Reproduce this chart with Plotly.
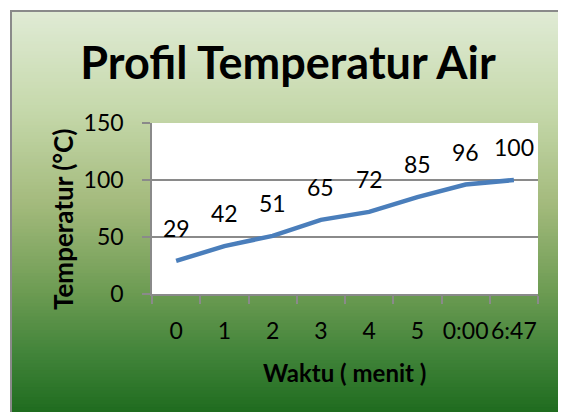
import plotly.graph_objects as go

# ---- data ----
categories = ["0", "1", "2", "3", "4", "5", "0:00", "6:47"]
temperatures = [29, 42, 51, 65, 72, 85, 96, 100]
y_ticks = [0, 50, 100, 150]

title_text = "Profil Temperatur Air"
x_title = "Waktu ( menit )"
y_title = "Temperatur (°C)"

# ---- layout geometry ----
OFF = 8  # page body margin offset
W, H = 566 - OFF, 412 - OFF
PAGE_W, PAGE_H = 566, 412
# target page-pixel positions of the plot area
PL, PR, PT, PB = 152, 538, 123, 294
L = PL - OFF
T = PT - OFF
R = W - (PR - OFF)
B = H - (PB - OFF)
pw, ph = W - L - R, H - T - B


def xp(px):
    """page px -> paper x"""
    return (px - OFF - L) / pw


def yp(py):
    """page px -> paper y"""
    return (H - B - (py - OFF)) / ph


# gradient stops (fraction from top of chart box, rgb)
stops = [
    (0.00, (224, 235, 213)),
    (0.25, (197, 216, 170)),
    (0.48, (163, 186, 124)),
    (0.70, (108, 155, 82)),
    (0.85, (66, 132, 58)),
    (1.00, (30, 107, 30)),
]


def color_at(f):
    for (f0, c0), (f1, c1) in zip(stops[:-1], stops[1:]):
        if f0 <= f <= f1:
            t = (f - f0) / (f1 - f0) if f1 > f0 else 0
            return "rgb(%d,%d,%d)" % tuple(round(a + (b - a) * t) for a, b in zip(c0, c1))
    return "rgb(%d,%d,%d)" % stops[-1][1]


shapes = []
top_px, bot_px = 11, PAGE_H + 2
n = 120
step = (bot_px - top_px) / n
for i in range(n):
    y0 = top_px + i * step
    y1 = y0 + step + 0.8
    f = (i + 0.5) / n
    shapes.append(dict(type="rect", xref="paper", yref="paper",
                       x0=xp(11), x1=xp(PAGE_W + 4), y0=yp(y1), y1=yp(y0),
                       fillcolor=color_at(f), line=dict(width=0), layer="below"))

# chart border
shapes.append(dict(type="line", xref="paper", yref="paper", x0=xp(11), x1=xp(11),
                   y0=yp(10), y1=yp(PAGE_H + 10), line=dict(color="#8a8a8a", width=2), layer="below"))
shapes.append(dict(type="line", xref="paper", yref="paper", x0=xp(10), x1=xp(PAGE_W + 10),
                   y0=yp(11), y1=yp(11), line=dict(color="#8a8a8a", width=2), layer="below"))

# white plot area
shapes.append(dict(type="rect", xref="x domain", yref="y domain", x0=0, x1=1, y0=0, y1=1,
                   fillcolor="white", line=dict(width=0), layer="below"))

fig = go.Figure()
fig.add_trace(go.Scatter(
    x=categories, y=temperatures, mode="lines",
    line=dict(color="#4a7ebb", width=4.5),
    hoverinfo="x+y", showlegend=False,
))

annotations = []
for c, v in zip(categories, temperatures):
    annotations.append(dict(x=c, y=v, xref="x", yref="y", text=str(v), showarrow=False,
                            yshift=33, xanchor="center", yanchor="middle",
                            font=dict(family="Lato", size=23, color="black")))

annotations.append(dict(text=y_title, xref="paper", yref="paper", x=xp(63), y=yp(220),
                        textangle=-90, showarrow=False, xanchor="center", yanchor="middle",
                        font=dict(family="Lato", size=26, color="black", weight="bold")))
annotations.append(dict(text=x_title, xref="paper", yref="paper", x=xp(344), y=yp(372),
                        showarrow=False, xanchor="center", yanchor="middle",
                        font=dict(family="Lato", size=24, color="black", weight="bold")))

fig.update_layout(
    width=W, height=H,
    margin=dict(l=L, r=R, t=T, b=B, pad=0),
    paper_bgcolor="white",
    plot_bgcolor="rgba(0,0,0,0)",
    title=dict(text=title_text, x=(288 - OFF) / W, xanchor="center",
               y=1 - (63 - OFF) / H, yanchor="middle", yref="container",
               font=dict(family="Lato", size=45, color="black", weight="bold")),
    shapes=shapes,
    annotations=annotations,
    font=dict(family="Lato", color="black"),
)

fig.update_xaxes(
    type="category", range=[-0.5, len(categories) - 0.5],
    showline=True, linecolor="#8a8a8a", linewidth=1.5,
    ticks="outside", ticklen=8, tickcolor="#8a8a8a", tickwidth=1.5,
    tickson="boundaries", tickangle=0,
    showgrid=False, zeroline=False,
    tickfont=dict(family="Lato", size=23, color="black"),
    ticklabelstandoff=16,
)
fig.update_yaxes(
    range=[0, 150], tickvals=y_ticks, ticktext=[str(t) for t in y_ticks],
    showline=True, linecolor="#8a8a8a", linewidth=1.5,
    ticks="outside", ticklen=8, tickcolor="#8a8a8a", tickwidth=1.5,
    showgrid=True, gridcolor="#8a8a8a", gridwidth=1.5,
    zeroline=False,
    tickfont=dict(family="Lato", size=23, color="black"),
    ticklabelstandoff=14,
)

fig.write_html("out.html")
